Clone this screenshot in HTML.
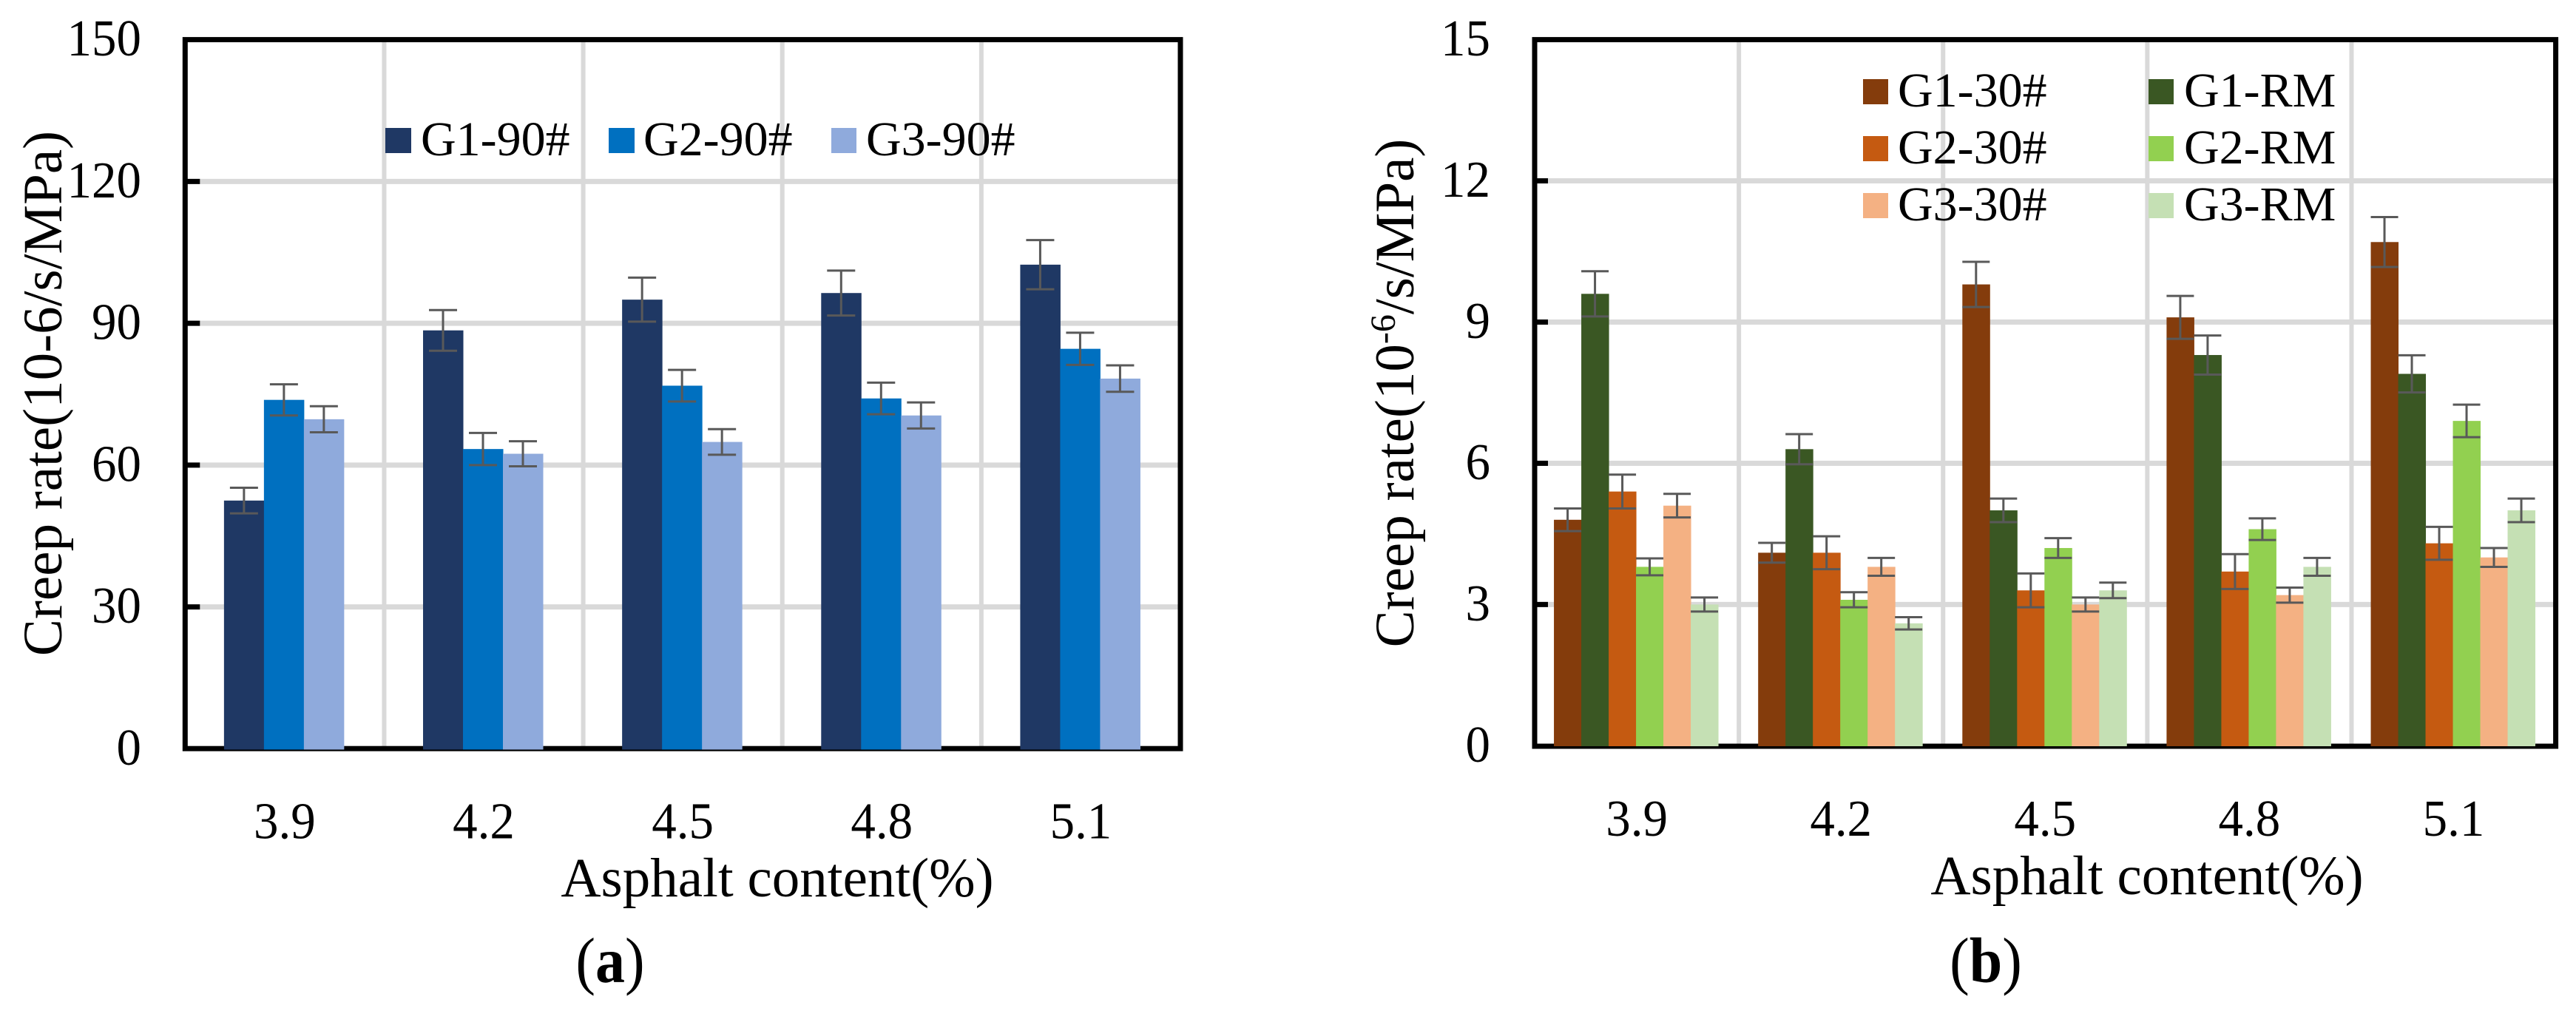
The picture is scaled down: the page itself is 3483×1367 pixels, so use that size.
<!DOCTYPE html>
<html lang="en">
<head>
<meta charset="utf-8">
<title>Creep rate vs asphalt content</title>
<style>
html,body{margin:0;padding:0;background:#fff;}
svg{display:block;}
text{font-family:"Liberation Serif",serif;fill:#000;}
</style>
</head>
<body>
<svg id="figure" xmlns="http://www.w3.org/2000/svg" width="3483" height="1367" viewBox="0 0 3483 1367">
  <rect x="0" y="0" width="3483" height="1367" fill="#fff"/>
  <g id="panel-a"></g>
  <g id="panel-b"></g>

  <text transform="translate(83,532) rotate(-90)" text-anchor="middle" font-size="75">Creep rate(10-6/s/MPa)</text>
  <text transform="translate(1911,531.5) rotate(-90)" text-anchor="middle" font-size="75">Creep rate(10<tspan dy="-25" font-size="48">-6</tspan><tspan dy="25">/s/MPa)</tspan></text>

  <text x="1051" y="1212" text-anchor="middle" font-size="75">Asphalt content(%)</text>
  <text x="2903" y="1209" text-anchor="middle" font-size="75">Asphalt content(%)</text>

  <text transform="translate(825,1328) scale(1,1.08)" text-anchor="middle" font-size="80">(<tspan font-weight="bold">a</tspan>)</text>
  <text transform="translate(2685,1328) scale(1,1.08)" text-anchor="middle" font-size="80">(<tspan font-weight="bold">b</tspan>)</text>

  <g>
    <g>
      <rect x="521" y="173" width="35" height="34" fill="#1f3864"/>
      <text x="569" y="210" font-size="66">G1-90#</text>
    </g>
    <g>
      <rect x="823" y="173" width="35" height="34" fill="#0070c0"/>
      <text x="870" y="210" font-size="66">G2-90#</text>
    </g>
    <g>
      <rect x="1124" y="173" width="34" height="34" fill="#8faadc"/>
      <text x="1171" y="210" font-size="66">G3-90#</text>
    </g>
  </g>

  <g>
    <g>
      <rect x="2519" y="107" width="34" height="34" fill="#843c0c"/>
      <text x="2566" y="144" font-size="66">G1-30#</text>
    </g>
    <g>
      <rect x="2519" y="184" width="34" height="34" fill="#c55a11"/>
      <text x="2566" y="221" font-size="66">G2-30#</text>
    </g>
    <g>
      <rect x="2519" y="261" width="34" height="34" fill="#f4b183"/>
      <text x="2566" y="298" font-size="66">G3-30#</text>
    </g>
    <g>
      <rect x="2905" y="107" width="34" height="34" fill="#3a5723"/>
      <text x="2953" y="144" font-size="66">G1-RM</text>
    </g>
    <g>
      <rect x="2905" y="184" width="34" height="34" fill="#92d050"/>
      <text x="2953" y="221" font-size="66">G2-RM</text>
    </g>
    <g>
      <rect x="2905" y="261" width="34" height="34" fill="#c5e0b4"/>
      <text x="2953" y="298" font-size="66">G3-RM</text>
    </g>
  </g>
</svg>

<script>
// Shared category labels
var categories = ["3.9", "4.2", "4.5", "4.8", "5.1"];

// Panel (a) data
var ticksA = [0, 30, 60, 90, 120, 150];
var seriesNamesA = ["g1-90", "g2-90", "g3-90"];
var colorsA = ["#1f3864", "#0070c0", "#8faadc"];
var g1_90 = [52.5, 88.5, 95.0, 96.4, 102.4];
var g2_90 = [73.8, 63.4, 76.8, 74.1, 84.6];
var g3_90 = [69.7, 62.4, 64.9, 70.5, 78.3];
var g1_90_err = [2.7, 4.3, 4.65, 4.75, 5.2];
var g2_90_err = [3.3, 3.4, 3.35, 3.35, 3.4];
var g3_90_err = [2.75, 2.65, 2.7, 2.75, 2.8];

// Panel (b) data
var ticksB = [0, 3, 6, 9, 12, 15];
var seriesNamesB = ["g1-30", "g1-rm", "g2-30", "g2-rm", "g3-30", "g3-rm"];
var colorsB = ["#843c0c", "#3a5723", "#c55a11", "#92d050", "#f4b183", "#c5e0b4"];
var g1_30 = [4.8, 4.1, 9.8, 9.1, 10.7];
var g1_rm = [9.6, 6.3, 5.0, 8.3, 7.9];
var g2_30 = [5.4, 4.1, 3.3, 3.7, 4.3];
var g2_rm = [3.8, 3.1, 4.2, 4.6, 6.9];
var g3_30 = [5.1, 3.8, 3.0, 3.2, 4.0];
var g3_rm = [3.0, 2.6, 3.3, 3.8, 5.0];
var g1_30_err = [0.24, 0.21, 0.48, 0.455, 0.53];
var g1_rm_err = [0.48, 0.32, 0.25, 0.415, 0.395];
var g2_30_err = [0.36, 0.35, 0.36, 0.37, 0.35];
var g2_rm_err = [0.18, 0.16, 0.21, 0.23, 0.345];
var g3_30_err = [0.25, 0.19, 0.15, 0.16, 0.2];
var g3_rm_err = [0.15, 0.13, 0.165, 0.19, 0.25];

var SVG_NS = "http://www.w3.org/2000/svg";

function shape(parent, tag, attrs) {
  var el = document.createElementNS(SVG_NS, tag);
  for (var k in attrs) { el.setAttribute(k, attrs[k]); }
  parent.appendChild(el);
  return el;
}

function drawPanel(root, prefix, geo, ticks, names, colors, values, errors) {
  var yMax = ticks[ticks.length - 1];
  var n = categories.length;
  var catW = (geo.right - geo.left) / n;
  var barW = geo.groupW / names.length;
  function yScale(v) { return geo.y0 - (geo.y0 - geo.top) * v / yMax; }
  function catCenter(i) { return geo.left + catW * (i + 0.5) + geo.shift; }
  function barX(i, s) { return catCenter(i) - geo.groupW / 2 + s * barW; }

  // Gridlines
  ticks.forEach(function (t) {
    if (t === 0 || t === yMax) { return; }
    var gl = shape(root, "rect", {x: geo.left, y: yScale(t) - 3.5, width: geo.right - geo.left, height: 7, fill: "#d9d9d9"});
    
    
  });
  for (var c = 1; c < n; c++) {
    var vg = shape(root, "rect", {x: geo.left + catW * c - 3, y: geo.top, width: 6, height: geo.y0 - geo.top, fill: "#d9d9d9"});
    
    
  }

  // Frame
  var frame = shape(root, "rect", {x: geo.left, y: geo.top, width: geo.right - geo.left, height: geo.axisY - geo.top, fill: "none", stroke: "#000", "stroke-width": 7});
  
  

  // Y ticks and labels
  ticks.forEach(function (t) {
    if (t !== 0 && t !== yMax) {
      var tk = shape(root, "rect", {x: geo.left, y: yScale(t) - 3.5, width: geo.tickLen, height: 7, fill: "#000"});
      
      
    }
    var lb = shape(root, "text", {transform: "translate(" + geo.yLabelX + "," + (yScale(t) + 21.5) + ") scale(1,1.05)", "text-anchor": "end", "font-size": 67});
    lb.textContent = String(t);
    
    
  });

  // X labels
  categories.forEach(function (cat, i) {
    var xl = shape(root, "text", {transform: "translate(" + (geo.left + catW * (i + 0.5)) + "," + geo.xLabelY + ") scale(1,1.05)", "text-anchor": "middle", "font-size": 67});
    xl.textContent = cat;
    
    
  });

  // Bars
  names.forEach(function (name, s) {
    values[s].forEach(function (v, i) {
      var bar = shape(root, "rect", {x: barX(i, s), y: yScale(v), width: barW + 0.5, height: geo.barBottom - yScale(v), fill: colors[s]});
      
      
    });
  });

  // Error bars
  names.forEach(function (name, s) {
    values[s].forEach(function (v, i) {
      var cx = barX(i, s) + barW / 2;
      var hi = yScale(v + errors[s][i]);
      var lo = yScale(v - errors[s][i]);
      var eb = shape(root, "path", {d: "M" + (cx - geo.capW / 2) + " " + hi + "H" + (cx + geo.capW / 2) + "M" + cx + " " + hi + "V" + lo + "M" + (cx - geo.capW / 2) + " " + lo + "H" + (cx + geo.capW / 2), fill: "none", stroke: "#595959", "stroke-width": 3});
      
      
    });
  });
}

drawPanel(
  document.getElementById("panel-a"), "a",
  {left: 250.3, right: 1596, top: 53.6, y0: 1012.4, axisY: 1012.2, barBottom: 1013.5, tickLen: 20, groupW: 162, capW: 38, shift: -1, yLabelX: 191, xLabelY: 1133.5},
  ticksA, seriesNamesA, colorsA,
  [g1_90, g2_90, g3_90],
  [g1_90_err, g2_90_err, g3_90_err]
);

drawPanel(
  document.getElementById("panel-b"), "b",
  {left: 2075, right: 3455.6, top: 53.6, y0: 1008.3, axisY: 1009, barBottom: 1009, tickLen: 18, groupW: 222, capW: 37, shift: -1, yLabelX: 2015, xLabelY: 1130},
  ticksB, seriesNamesB, colorsB,
  [g1_30, g1_rm, g2_30, g2_rm, g3_30, g3_rm],
  [g1_30_err, g1_rm_err, g2_30_err, g2_rm_err, g3_30_err, g3_rm_err]
);
</script>
</body>
</html>
